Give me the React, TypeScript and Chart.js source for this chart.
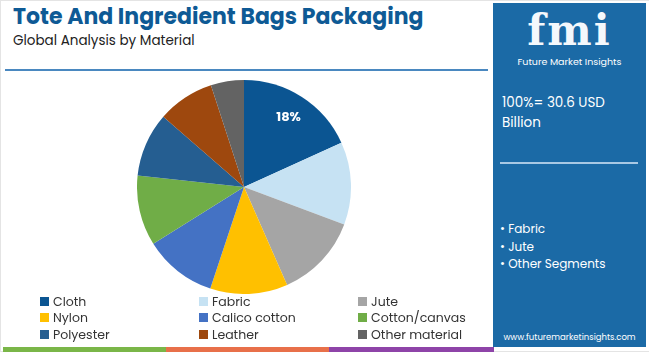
import React, { useEffect, useRef } from "react";
import { Chart, registerables } from "chart.js";

Chart.register(...registerables);

const categories = ["Cloth", "Fabric", "Jute", "Nylon", "Calico cotton", "Cotton/canvas", "Polyester", "Leather", "Other material"];
const shares = [18.2, 12.5, 12.7, 11.7, 11.0, 10.6, 9.7, 8.6, 5.0];
const colors = ["#0b5592", "#c6e2f3", "#a5a5a5", "#ffc000", "#4472c4", "#70ad47", "#255e91", "#9e480e", "#636363"];
const shownLabels = ["18%", "", "", "", "", "", "", "", ""];
const segmentsList = ["Fabric", "Jute", "Other Segments"];

const FONT = "Poppins, 'Open Sans', 'Noto Sans', sans-serif";

const labelPlugin = {
  id: "sliceLabels",
  afterDatasetsDraw(chart: any) {
    const ctx = chart.ctx;
    const meta = chart.getDatasetMeta(0);
    meta.data.forEach((arc: any, i: number) => {
      const text = shownLabels[i];
      if (!text) return;
      const { x, y, startAngle, endAngle, outerRadius } = arc.getProps(["x", "y", "startAngle", "endAngle", "outerRadius"], true);
      const mid = (startAngle + endAngle) / 2;
      const r = outerRadius * 0.77;
      ctx.save();
      ctx.fillStyle = "#ffffff";
      ctx.font = "bold 13px " + FONT;
      ctx.textAlign = "center";
      ctx.textBaseline = "middle";
      ctx.fillText(text, x + Math.cos(mid) * r, y + Math.sin(mid) * r);
      ctx.restore();
    });
  },
};

export default function App() {
  const ref = useRef<HTMLCanvasElement | null>(null);
  useEffect(() => {
    if (!ref.current) return;
    const chart = new Chart(ref.current, {
      type: "pie",
      data: {
        labels: categories,
        datasets: [{ data: shares, backgroundColor: colors, borderWidth: 0 }],
      },
      options: {
        animation: false,
        responsive: false,
        maintainAspectRatio: false,
        layout: { padding: 0 },
        plugins: { legend: { display: false }, tooltip: { enabled: false } },
      },
      plugins: [labelPlugin],
    });
    return () => chart.destroy();
  }, []);

  return (
    <div style={{ position: "absolute", left: 0, top: 0, width: 650, height: 352, background: "#fff", overflow: "hidden", fontFamily: FONT }}>
      <div style={{ position: "absolute", left: 0, top: 0, width: 648, height: 350, border: "1px solid #e4e4e4", borderRight: "none" }} />
      <div style={{ position: "absolute", left: 13, top: 4, fontSize: 22, lineHeight: "26px", fontWeight: 700, color: "#0e5a95", whiteSpace: "nowrap" }}>
        Tote And Ingredient Bags Packaging
      </div>
      <div style={{ position: "absolute", left: 13, top: 32, fontSize: 13.5, lineHeight: "17px", color: "#222", whiteSpace: "nowrap" }}>
        Global Analysis by Material
      </div>
      <div style={{ position: "absolute", left: 5, top: 69, width: 483, height: 2, background: "#4a88c0" }} />

      <canvas ref={ref} width={214} height={214} style={{ position: "absolute", left: 137, top: 80, width: 214, height: 214 }} />

      <div style={{ position: "absolute", left: 40, top: 293, display: "grid", gridTemplateColumns: "159px 159px 160px", rowGap: 0 }}>
        {categories.map((c, i) => (
          <div key={c} style={{ display: "flex", alignItems: "center", height: 16.5, lineHeight: "15px", fontSize: 12.5, color: "#333", whiteSpace: "nowrap" }}>
            <span style={{ display: "inline-block", width: 9, height: 9, background: colors[i], marginRight: 4 }} />
            {c}
          </div>
        ))}
      </div>

      <div style={{ position: "absolute", left: 3, top: 347, width: 163, height: 5, background: "#7ab648" }} />
      <div style={{ position: "absolute", left: 166, top: 347, width: 163, height: 5, background: "#e8704a" }} />
      <div style={{ position: "absolute", left: 329, top: 347, width: 165, height: 5, background: "#8e44a8" }} />

      <div style={{ position: "absolute", left: 493, top: 3, width: 153, height: 344, background: "#1b6aa6", color: "#fff" }}>
        <div style={{ position: "absolute", left: 0, top: 8, width: 153, textAlign: "center", fontFamily: "'DejaVu Serif', serif", fontWeight: 700, fontSize: 42, lineHeight: "40px", letterSpacing: 2, color: "#f4f8fc" }}>
          fmi
        </div>
        <div style={{ position: "absolute", left: 0, top: 53, width: 153, textAlign: "center", fontSize: 9.5, lineHeight: "12px", whiteSpace: "nowrap" }}>
          Future Market Insights
        </div>
        <div style={{ position: "absolute", left: 9, top: 90, fontSize: 13.5, lineHeight: "20px", width: 140 }}>
          100%= 30.6 USD Billion
        </div>
        <div style={{ position: "absolute", left: 7, top: 159, width: 138, height: 1.5, background: "#a8c8e4" }} />
        <div style={{ position: "absolute", left: 7, top: 217, fontSize: 12, lineHeight: "17.5px" }}>
          {segmentsList.map((s) => (
            <div key={s} style={{ whiteSpace: "nowrap" }}>{"\u2022 " + s}</div>
          ))}
        </div>
        <div style={{ position: "absolute", left: 0, top: 329, width: 153, textAlign: "center", fontSize: 8.5, lineHeight: "11px", whiteSpace: "nowrap" }}>
          www.futuremarketinsights.com
        </div>
      </div>
    </div>
  );
}
